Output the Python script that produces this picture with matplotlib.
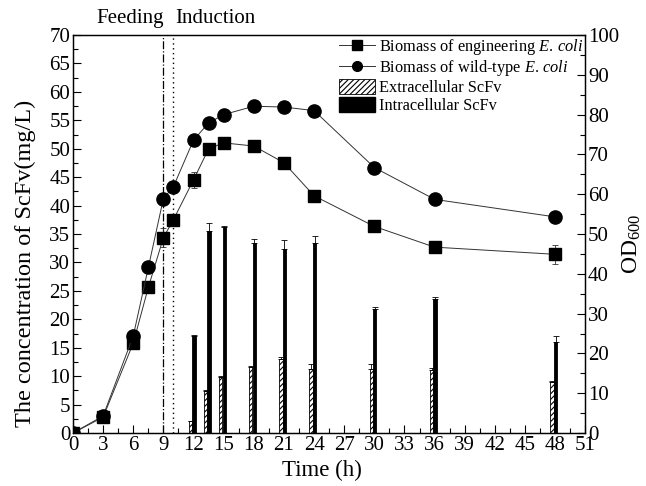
import matplotlib
matplotlib.use("Agg")
import matplotlib.pyplot as plt
from matplotlib.ticker import MultipleLocator
from matplotlib.lines import Line2D
from matplotlib.patches import Patch

plt.rcParams['font.family'] = ['Liberation Serif', 'DejaVu Serif']
plt.rcParams['mathtext.fontset'] = 'custom'
plt.rcParams['mathtext.rm'] = 'Liberation Serif'
plt.rcParams['mathtext.it'] = 'Liberation Serif:italic'
plt.rcParams['hatch.linewidth'] = 0.8

# biomass (OD600, right axis)
time_od = [0, 3, 6, 7.5, 9, 10, 12, 13.5, 15, 18, 21, 24, 30, 36, 48]
od_eng = [0, 4.0, 22.6, 36.6, 49.1, 53.6, 63.6, 71.4, 72.9, 72.1, 67.9, 59.6, 51.9, 46.7, 44.9]
od_eng_err = [0, 0.6, 1.0, 1.1, 2.4, 0.6, 2.0, 1.4, 0.9, 0.6, 0.6, 1.2, 0.6, 1.2, 2.4]
od_wt = [0, 4.3, 24.4, 41.6, 58.9, 61.9, 73.6, 77.9, 80.0, 82.1, 81.9, 81.0, 66.7, 58.7, 54.3]
od_wt_err = [0, 0.5, 0.8, 0.6, 0.6, 0.6, 0.6, 0.8, 0.8, 1.2, 0.8, 0.6, 0.6, 0.6, 0.6]

# ScFv concentration (mg/L, left axis)
time_scfv = [12, 13.5, 15, 18, 21, 24, 30, 36, 48]
extra = [2.1, 7.45, 9.8, 11.55, 13.0, 11.3, 11.3, 11.1, 8.9]
extra_err = [0.1, 0.2, 0.2, 0.2, 0.4, 0.8, 0.8, 0.4, 0.2]
intra = [17.1, 35.6, 36.2, 33.4, 32.4, 33.4, 21.8, 23.6, 15.95]
intra_err = [0.1, 1.3, 0.2, 0.8, 1.6, 1.2, 0.3, 0.3, 1.1]

fig = plt.figure(figsize=(6.46, 4.86), dpi=100)
ax = fig.add_axes([0.113, 0.109, 0.793, 0.819])
ax2 = ax.twinx()

bw = 0.33
ax.bar([t - 0.3 for t in time_scfv], extra, width=bw, color='white', edgecolor='black',
       hatch='//////', linewidth=0.6, yerr=[[0] * len(extra), extra_err],
       error_kw=dict(elinewidth=0.6, capsize=2, capthick=0.6, ecolor='black'), zorder=2)
ax.bar([t + 0.05 for t in time_scfv], intra, width=bw, color='black', edgecolor='black',
       linewidth=0.6, yerr=[[0] * len(intra), intra_err],
       error_kw=dict(elinewidth=0.6, capsize=2, capthick=0.6, ecolor='black'), zorder=2)

ax.axvline(9, color='black', linestyle='-.', linewidth=0.9, zorder=1)
ax.axvline(10, color='black', linestyle=(0, (1, 2.5)), linewidth=1.0, zorder=1)

ax2.errorbar(time_od, od_eng, yerr=od_eng_err, color='#333333', linewidth=0.7, marker='s',
             markersize=8.5, mfc='black', mec='black', ecolor='#333333', elinewidth=0.6,
             capsize=2.5, capthick=0.6, zorder=3)
ax2.errorbar(time_od, od_wt, yerr=od_wt_err, color='#333333', linewidth=0.7, marker='o',
             markersize=9.5, mfc='black', mec='black', ecolor='#333333', elinewidth=0.6,
             capsize=2.5, capthick=0.6, zorder=3)

ax.set_xlim(0, 51)
ax.set_ylim(0, 70)
ax2.set_ylim(0, 100)
ax.xaxis.set_major_locator(MultipleLocator(3))
ax.xaxis.set_minor_locator(MultipleLocator(1.5))
ax.yaxis.set_major_locator(MultipleLocator(5))
ax.yaxis.set_minor_locator(MultipleLocator(2.5))
ax2.yaxis.set_major_locator(MultipleLocator(10))
ax2.yaxis.set_minor_locator(MultipleLocator(5))

for a in (ax, ax2):
    a.tick_params(which='major', direction='in', length=6, width=0.8, labelsize=15)
    a.tick_params(which='minor', direction='in', length=3.5, width=0.8)
    for s in a.spines.values():
        s.set_linewidth(0.9)
ax.tick_params(axis='x', which='both', top=False, pad=2)
ax.tick_params(axis='y', which='both', right=False, pad=2)
ax2.tick_params(axis='y', pad=2)

ax.set_xlabel('Time (h)', fontsize=16.5)
ax.xaxis.set_label_coords(0.486, -0.068)
ax.set_ylabel('The concentration of ScFv(mg/L)', fontsize=17.5)
ax.yaxis.set_label_coords(-0.073, 0.425)
ax2.set_ylabel('OD$_{600}$', fontsize=17)
ax2.yaxis.set_label_coords(1.07, 0.475)

ax.text(9, 71.3, 'Feeding', ha='right', va='bottom', fontsize=15)
ax.text(10.2, 71.3, 'Induction', ha='left', va='bottom', fontsize=15)

handles = [
    Line2D([], [], color='#333333', linewidth=0.7, marker='s', markersize=6.5, mfc='black', mec='black'),
    Line2D([], [], color='#333333', linewidth=0.7, marker='o', markersize=7, mfc='black', mec='black'),
    Patch(facecolor='white', edgecolor='black', hatch='//////', linewidth=0.6),
    Patch(facecolor='black', edgecolor='black'),
]
labels = ['Biomass of engineering $\\it{E.\\,coli}$', 'Biomass of wild-type $\\it{E.\\,coli}$',
          'Extracellular ScFv', 'Intracellular ScFv']
ax2.legend(handles, labels, loc='upper right', frameon=False, fontsize=11.8,
           handlelength=2.2, handleheight=1.05, labelspacing=0.05, borderaxespad=0.05,
           handletextpad=0.25, borderpad=0.1)

fig.savefig('out.png', dpi=100)
